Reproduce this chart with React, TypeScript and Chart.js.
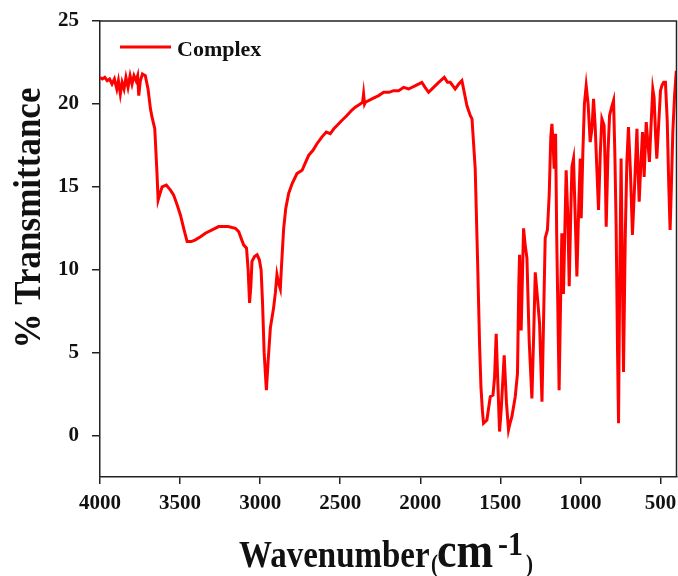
import React, { useEffect, useRef } from "react";
import { Chart, registerables } from "chart.js";

Chart.register(...registerables);

const seriesLabel = "Complex";

const wavenumbers = [
  4000, 3985, 3970, 3955, 3940, 3925, 3910, 3895, 3885, 3873, 3862, 3850, 3838, 3825, 3812, 3800,
  3788, 3775, 3765, 3758, 3748, 3735, 3717, 3700, 3685, 3675, 3658, 3645, 3637, 3625, 3612, 3586,
  3560, 3540, 3518, 3498, 3475, 3456, 3430, 3404, 3370, 3342, 3300, 3259, 3200, 3155, 3134, 3115,
  3103, 3085, 3075, 3066, 3058, 3051, 3035, 3019, 3005, 2994, 2985, 2975, 2961, 2950, 2936, 2916,
  2905, 2895, 2885, 2874, 2865, 2853, 2840, 2822, 2800, 2770, 2738, 2715, 2697, 2670, 2645, 2615,
  2587, 2562, 2540, 2520, 2490, 2458, 2430, 2406, 2375, 2360, 2354, 2348, 2343, 2302, 2260, 2229,
  2195, 2167, 2135, 2104, 2073, 2030, 1990, 1970, 1948, 1917, 1885, 1850, 1830, 1813, 1782, 1760,
  1740, 1709, 1688, 1677, 1657, 1642, 1630, 1621, 1612, 1605, 1584, 1563, 1546, 1536, 1526, 1515,
  1505, 1495, 1476, 1462, 1449, 1438, 1428, 1407, 1393, 1385, 1380, 1370, 1355, 1345, 1334, 1320,
  1303, 1292, 1282, 1265, 1255, 1240, 1230, 1220, 1206, 1195, 1185, 1178, 1170, 1164, 1155, 1148,
  1133, 1124, 1116, 1106, 1089, 1078, 1070, 1060, 1053, 1043, 1032, 1022, 1010, 1001, 995, 985,
  975, 964, 952, 939, 928, 918, 908, 897, 887, 876, 866, 852, 845, 839, 828, 818,
  805, 793, 785, 777, 768, 762, 755, 746, 738, 731, 720, 710, 700, 688, 675, 662,
  647, 640, 633, 622, 612, 602, 595, 589, 580, 569, 560, 548, 540, 530, 523, 510,
  500, 491, 480, 469, 458, 448, 440, 432, 423, 412, 402, 400,
];

const transmittance = [
  21.6, 21.5, 21.6, 21.4, 21.5, 21.2, 21.5, 20.9, 21.4, 20.6, 21.3, 20.9, 21.6, 21.0, 21.7, 21.2,
  21.7, 21.4, 21.7, 20.5, 21.4, 21.8, 21.7, 20.9, 19.7, 19.2, 18.5, 16.0, 14.2, 14.6, 15.0, 15.1,
  14.8, 14.5, 13.9, 13.3, 12.4, 11.7, 11.7, 11.8, 12.0, 12.2, 12.4, 12.6, 12.6, 12.5, 12.3, 11.8,
  11.5, 11.3, 10.0, 8.0, 9.0, 10.5, 10.8, 10.9, 10.6, 10.0, 8.0, 5.0, 2.74, 4.5, 6.5, 7.7,
  8.6, 9.7, 9.2, 8.84, 10.5, 12.5, 13.7, 14.6, 15.2, 15.8, 16.0, 16.5, 16.9, 17.2, 17.6, 18.0,
  18.3, 18.2, 18.5, 18.7, 19.0, 19.3, 19.6, 19.8, 20.0, 20.1, 20.6, 20.0, 20.1, 20.3, 20.5, 20.7,
  20.7, 20.8, 20.8, 21.0, 20.9, 21.1, 21.3, 21.0, 20.7, 21.0, 21.3, 21.6, 21.3, 21.3, 20.9, 21.2,
  21.4, 19.9, 19.3, 19.1, 16.1, 10.5, 5.6, 2.9, 1.5, 0.74, 0.94, 2.34, 2.44, 3.5, 6.14, 3.0,
  0.24, 1.5, 4.84, 2.0, 0.34, 0.8, 1.14, 2.34, 3.74, 9.0, 10.9, 6.34, 12.5, 11.5, 10.7, 5.74,
  2.24, 6.0, 9.84, 7.94, 6.74, 2.04, 7.0, 11.9, 12.4, 14.5, 18.0, 18.8, 17.5, 16.1, 18.2, 12.0,
  2.74, 8.0, 12.2, 8.54, 16.0, 13.0, 9.0, 13.5, 16.2, 16.7, 13.0, 9.6, 14.0, 16.7, 13.1, 17.0,
  20.0, 21.1, 20.0, 17.7, 18.5, 20.3, 18.7, 16.0, 13.6, 17.0, 19.1, 18.7, 16.0, 12.6, 17.0, 19.3,
  19.8, 20.2, 17.0, 12.7, 5.0, 0.74, 9.0, 16.7, 10.0, 3.84, 12.0, 16.5, 18.6, 16.0, 12.1, 15.0,
  18.5, 16.0, 14.1, 16.5, 18.3, 15.6, 17.5, 18.9, 17.8, 16.5, 18.5, 20.9, 20.4, 18.0, 16.7, 19.0,
  20.8, 21.1, 21.3, 21.3, 19.0, 15.0, 12.4, 15.0, 18.3, 20.5, 21.9, 22.0,
];

const xTicks = [4000, 3500, 3000, 2500, 2000, 1500, 1000, 500];
const yTicks = [0, 5, 10, 15, 20, 25];

const FONT = "'Liberation Serif', 'Times New Roman', serif";
const AXIS = "#222";

const zeroPad = (s: any) => {
  s.paddingTop = 0;
  s.paddingBottom = 0;
  s.paddingLeft = 0;
  s.paddingRight = 0;
};

const decorPlugin = {
  id: "decor",
  afterDraw(chart: any) {
    const { ctx, chartArea } = chart;
    const { left, right, top, bottom } = chartArea;
    ctx.save();
    // top and right frame
    ctx.strokeStyle = AXIS;
    ctx.lineWidth = 1.5;
    ctx.beginPath();
    ctx.moveTo(left, top);
    ctx.lineTo(right, top);
    ctx.lineTo(right, bottom);
    ctx.stroke();

    // legend
    const ds = chart.data.datasets[0];
    ctx.strokeStyle = ds.borderColor;
    ctx.lineWidth = 3;
    ctx.beginPath();
    ctx.moveTo(120, 47);
    ctx.lineTo(171, 47);
    ctx.stroke();
    ctx.fillStyle = "#111";
    ctx.font = `bold 22px ${FONT}`;
    ctx.textAlign = "left";
    ctx.textBaseline = "alphabetic";
    ctx.fillText(ds.label, 177, 56);

    // y title
    ctx.save();
    ctx.translate(40, 218);
    ctx.rotate(-Math.PI / 2);
    ctx.scale(1, 1.1);
    ctx.font = `bold 35px ${FONT}`;
    ctx.textAlign = "center";
    ctx.textBaseline = "alphabetic";
    ctx.fillText("% Transmittance", 0, 0);
    ctx.restore();

    // x title (slightly tall glyphs as in the reference)
    const sy = 1.15;
    const seg = (t: string, size: number, x: number, base: number) => {
      ctx.save();
      ctx.translate(x, base);
      ctx.scale(1, sy);
      ctx.font = `bold ${size}px ${FONT}`;
      ctx.fillText(t, 0, 0);
      ctx.restore();
    };
    seg("Wavenumber", 33, 239, 567);
    seg("(", 21, 431, 572);
    seg("cm", 44, 437, 567);
    seg("-1", 30, 498, 555);
    seg(")", 21, 526, 572);
    ctx.restore();
  },
};

export default function App() {
  const ref = useRef<HTMLCanvasElement | null>(null);
  useEffect(() => {
    if (!ref.current) return;
    const points = wavenumbers.map((w, i) => ({ x: w, y: transmittance[i] }));
    const chart = new Chart(ref.current, {
      type: "line",
      data: {
        datasets: [
          {
            label: seriesLabel,
            data: points,
            borderColor: "#ff0000",
            borderWidth: 3,
            pointRadius: 0,
            tension: 0,
            fill: false,
          },
        ],
      },
      options: {
        responsive: false,
        animation: false,
        layout: { padding: { top: 21, right: 1.5, left: 0, bottom: 0 } },
        plugins: { legend: { display: false }, tooltip: { enabled: false } },
        scales: {
          x: {
            type: "linear",
            reverse: true,
            min: 400,
            max: 4000,
            afterBuildTicks: (s: any) => {
              s.ticks = xTicks.map((v) => ({ value: v }));
            },
            afterFit: (s: any) => {
              s.height = 99;
              zeroPad(s);
            },
            ticks: {
              color: "#111",
              font: { family: FONT, size: 21, weight: "bold" },
              padding: 7,
              maxRotation: 0,
              autoSkip: false,
              callback: (v: any) => String(v),
            },
            grid: {
              drawOnChartArea: false,
              drawTicks: true,
              tickLength: 7,
              color: AXIS,
              lineWidth: 1.5,
            },
            border: { display: true, color: AXIS, width: 1.5 },
            title: { display: false },
          },
          y: {
            type: "linear",
            min: -2.5,
            max: 25,
            afterBuildTicks: (s: any) => {
              s.ticks = yTicks.map((v) => ({ value: v }));
            },
            afterFit: (s: any) => {
              s.width = 100;
              zeroPad(s);
            },
            ticks: {
              color: "#111",
              font: { family: FONT, size: 21, weight: "bold" },
              padding: 13,
              autoSkip: false,
              callback: (v: any) => String(v),
            },
            grid: {
              drawOnChartArea: false,
              drawTicks: true,
              tickLength: 8,
              color: AXIS,
              lineWidth: 1.5,
            },
            border: { display: true, color: AXIS, width: 1.5 },
            title: { display: false },
          },
        },
      },
      plugins: [decorPlugin],
    });
    return () => chart.destroy();
  }, []);
  return (
    <div style={{ position: "fixed", left: 0, top: 0, width: 678, height: 576, background: "#fff" }}>
      <canvas ref={ref} width={678} height={576} style={{ width: 678, height: 576, display: "block" }} />
    </div>
  );
}
